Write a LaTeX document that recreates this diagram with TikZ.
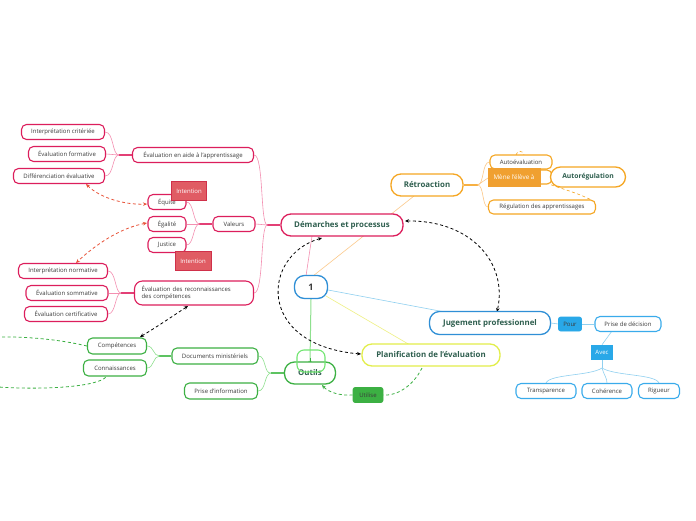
\documentclass[tikz,border=0pt]{standalone}
\usepackage{fontspec}
\setmainfont{Open Sans}
\usetikzlibrary{arrows.meta,backgrounds}
\definecolor{pk}{HTML}{DC1E5C}
\definecolor{pkl}{HTML}{F48FB1}
\definecolor{orc}{HTML}{F5A623}
\definecolor{orl}{HTML}{FCC98A}
\definecolor{orf}{HTML}{F0A030}
\definecolor{blc}{HTML}{2F8FD6}
\definecolor{bls}{HTML}{3AABEB}
\definecolor{bll}{HTML}{90D0F0}
\definecolor{blf}{HTML}{29A8E8}
\definecolor{grc}{HTML}{3CB043}
\definecolor{grl}{HTML}{8EE08E}
\definecolor{grf}{HTML}{3CB043}
\definecolor{ylc}{HTML}{E2EE4A}
\definecolor{yll}{HTML}{EEF080}
\definecolor{txt}{HTML}{3A3A3A}
\definecolor{mtxt}{HTML}{2E5E4E}
\definecolor{intf}{HTML}{E05C64}
\definecolor{intd}{HTML}{D0304A}
\definecolor{rdd}{HTML}{E8533A}
\tikzset{
  small/.style={draw, line width=1.1pt, rounded corners=5pt, fill=white, text=txt,
    font=\fontsize{6}{7}\selectfont, minimum height=15pt, inner sep=1pt},
  mainbox/.style={draw, line width=1.3pt, rounded corners=10pt, fill=white, text=mtxt,
    font=\fontsize{7.9}{9}\selectfont\bfseries, minimum height=22pt, inner sep=1pt},
  tag/.style={rectangle, line width=0.6pt, text=white, font=\fontsize{6}{7}\selectfont,
    inner sep=1pt},
  link/.style={line width=0.6pt},
  trunk/.style={line width=1.4pt},
  dsh/.style={dashed, line width=0.8pt, dash pattern=on 3pt off 2.5pt},
  tip/.style={-{Stealth[length=4pt,width=3.5pt]}},
  tips/.style={{Stealth[length=4pt,width=3.5pt]}-{Stealth[length=4pt,width=3.5pt]}},
}
\begin{document}
\begin{tikzpicture}[x=1pt,y=-1pt]
\useasboundingbox (0,0) rectangle (696,520);

% main nodes
\node[mainbox, draw=blc, minimum width=33, minimum height=23, text=txt, font=\fontsize{9}{10}\selectfont\bfseries] (one) at (311,287) {1};
\node[mainbox, draw=pk, minimum width=122] (dem) at (342,225) {Démarches et processus};
\node[mainbox, draw=orc, minimum width=72] (ret) at (427,185) {Rétroaction};
\node[mainbox, draw=blc, minimum width=121, minimum height=23] (jug) at (490,323) {Jugement professionnel};
\node[mainbox, draw=ylc, minimum width=138] (pla) at (431,355) {Planification de l'évaluation};
\node[mainbox, draw=grc, minimum width=51] (out) at (310,373) {Outils};

% pink nodes
\node[small, draw=pk, minimum width=121] (aide) at (193,155) {Évaluation en aide à l'apprentissage};
\node[small, draw=pk, minimum width=83] (ic) at (63,132) {Interprétation critériée};
\node[small, draw=pk, minimum width=77] (ef) at (67,154) {Évaluation formative};
\node[small, draw=pk, minimum width=91] (de) at (59,176) {Différenciation évaluative};
\node[small, draw=pk, minimum width=42] (val) at (234,224) {Valeurs};
\node[small, draw=pk, minimum width=38] (equ) at (167,202) {Équité};
\node[small, draw=pk, minimum width=38] (ega) at (167,224) {Égalité};
\node[small, draw=pk, minimum width=38] (jus) at (167,245) {Justice};
\node[small, draw=pk, minimum width=119, minimum height=24, rounded corners=8pt, align=left, text width=105, inner xsep=7pt] (rec) at (194,293) {Évaluation des reconnaissances\\des compétences};
\node[small, draw=pk, minimum width=89] (inn) at (63,271) {Interprétation normative};
\node[small, draw=pk, minimum width=82] (es) at (67,293) {Évaluation sommative};
\node[small, draw=pk, minimum width=83] (ec) at (66,314) {Évaluation certificative};
\node[tag, draw=intd, fill=intf, minimum width=35, minimum height=19] (int1) at (189,191) {Intention};
\node[tag, draw=intd, fill=intf, minimum width=36, minimum height=19] (int2) at (193,261) {Intention};

% green nodes
\node[small, draw=grc, minimum width=86, minimum height=16] (doc) at (215,356) {Documents ministériels};
\node[small, draw=grc, minimum width=73, minimum height=16] (pri) at (221,391) {Prise d'information};
\node[small, draw=grc, minimum width=59, minimum height=16] (comp) at (117,346) {Compétences};
\node[small, draw=grc, minimum width=63, minimum height=16] (conn) at (115,368) {Connaissances};
\node[tag, draw=grf, fill=grf, rounded corners=2pt, text=txt, minimum width=30, minimum height=15] (util) at (368,395) {Utilise};

% blue nodes
\node[tag, draw=blf, fill=blf, rounded corners=2pt, text=txt, minimum width=23, minimum height=14] (pour) at (570,324) {Pour};
\node[small, draw=bls, minimum width=66] (pdd) at (628,324) {Prise de décision};
\node[tag, draw=blf, fill=blf, minimum width=21, minimum height=14] (avec) at (602,352) {Avec};
\node[small, draw=bls, minimum width=60] (tra) at (546,391) {Transparence};
\node[small, draw=bls, minimum width=50] (coh) at (607,391) {Cohérence};
\node[small, draw=bls, minimum width=41] (rig) at (659,391) {Rigueur};

% orange nodes
\node[small, draw=orc, minimum width=62, minimum height=14] (auto) at (521,162) {Autoévaluation};
\node[small, draw=orc, minimum width=62, minimum height=14] (hid) at (521,177) {};
\node[mainbox, draw=orc, minimum width=75, minimum height=20, font=\fontsize{6.8}{8}\selectfont\bfseries] (autr) at (588,177) {Autorégulation};
\node[tag, draw=orf, fill=orf, minimum width=52, minimum height=18, font=\fontsize{6.3}{7}\selectfont] (mene) at (514,177) {Mène l'élève à};
\node[small, draw=orc, minimum width=107, minimum height=14] (regu) at (542,207) {Régulation des apprentissages};

% light green overlay box on Outils
\draw[grl!80!green, line width=1.1pt, rounded corners=7pt] (297,350) rectangle (325,372);

\begin{pgfonlayer}{background}
\fill[white] (0,0) rectangle (696,520);
% central links
\draw[link, pkl] (306,276) -- (312,236);
\draw[link, orl] (313,276) -- (414,196);
\draw[link, bll] (one.east) ++(0,3) -- (445,312);
\draw[link, yll] (326,296) -- (410,345);
\draw[link, grl, line width=1pt] (one.south) -- (310,362);
\draw[grc, -{Stealth[length=3pt,width=3pt]}] (310,358) -- (310,364);

% Demarches branches
\draw[trunk, pk!70!pkl] (dem.west) -- ++(-13,0) coordinate (dj);
\draw[link, pkl] (dj) .. controls (260,225) and (264,155) .. (aide.east);
\draw[link, pkl] (dj) -- (val.east);
\draw[link, pkl] (dj) .. controls (260,225) and (264,293) .. (rec.east);
% aide branches
\draw[trunk, pk!70!pkl] (aide.west) -- ++(-13,0) coordinate (aj);
\draw[link, pkl] (aj) .. controls (112,155) and (114,132) .. (ic.east);
\draw[link, pkl] (aj) -- (ef.east);
\draw[link, pkl] (aj) .. controls (112,155) and (114,176) .. (de.east);
% valeurs branches
\draw[trunk, pk!70!pkl] (val.west) -- ++(-13,0) coordinate (vj);
\draw[link, pkl] (vj) .. controls (193,224) and (194,202) .. (equ.east);
\draw[link, pkl] (vj) -- (ega.east);
\draw[link, pkl] (vj) .. controls (193,224) and (194,245) .. (jus.east);
% reconnaissances branches
\draw[trunk, pk!70!pkl] (rec.west) -- ++(-13,0) coordinate (rj);
\draw[link, pkl] (rj) .. controls (115,293) and (116,271) .. (inn.east);
\draw[link, pkl] (rj) -- (es.east);
\draw[link, pkl] (rj) .. controls (115,293) and (116,314) .. (ec.east);

% Retroaction branches
\draw[trunk, orc!70!orl] (ret.east) -- ++(14,0) coordinate (tj);
\draw[link, orl] (tj) .. controls (484,185) and (482,162) .. (auto.west);
\draw[link, orl] (tj) -- (hid.west);
\draw[link, orl] (tj) .. controls (484,185) and (482,207) .. (regu.west);

% Outils branches
\draw[trunk, grc!60!grl] (out.west) -- ++(-13,0) coordinate (uj);
\draw[link, grl] (uj) .. controls (264,374) and (266,356) .. (doc.east);
\draw[link, grl] (uj) .. controls (264,374) and (266,391) .. (pri.east);
\draw[trunk, grc!60!grl] (doc.west) -- ++(-12,0) coordinate (dj2);
\draw[link, grl] (dj2) .. controls (153,356) and (154,346) .. (comp.east);
\draw[link, grl] (dj2) .. controls (153,356) and (154,368) .. (conn.east);

% Jugement branches
\draw[link, bll] (jug.east) -- (pour.west);
\draw[link, bll] (pour.east) -- (pdd.west);
\draw[link, bll] (612,331) -- (avec.north);
\draw[link, bll] (avec.south) -- (602,368) coordinate (aj2);
\draw[link, bll] (aj2) .. controls (590,376) and (550,374) .. (tra.north);
\draw[link, bll] (aj2) .. controls (604,375) and (607,378) .. (coh.north);
\draw[link, bll] (aj2) .. controls (615,376) and (655,374) .. (rig.north);

% dashed relations
\draw[dsh, black, tips] (405,221) .. controls (470,220) and (508,262) .. (497,312);
\draw[dsh, black, tips] (322,238) .. controls (262,255) and (255,345) .. (361,354);
\draw[dsh, black, tips] (188,306) .. controls (170,318) and (155,328) .. (140,337);
\draw[dsh, rdd, tips] (86,184) .. controls (100,198) and (125,205) .. (147,204);
\draw[dsh, rdd, tips] (147,223) .. controls (120,228) and (95,245) .. (76,263);
\draw[dsh, grc] (comp.west) .. controls (20,330) and (-80,335) .. (-80,362) .. controls (-80,392) and (90,395) .. (106,377);
\draw[dsh, grc] (422,368) .. controls (412,388) and (395,396) .. (util.east);
\draw[dsh, grc, tip] (util.west) .. controls (340,396) and (328,392) .. (322,385);
\draw[dsh, orc, line width=0.6pt] (546,183) .. controls (565,190) and (585,195) .. (596,203);
\draw[dsh, orc, line width=0.6pt] (516,155) .. controls (517,150) and (523,150) .. (524,155);
\end{pgfonlayer}
\end{tikzpicture}
\end{document}
